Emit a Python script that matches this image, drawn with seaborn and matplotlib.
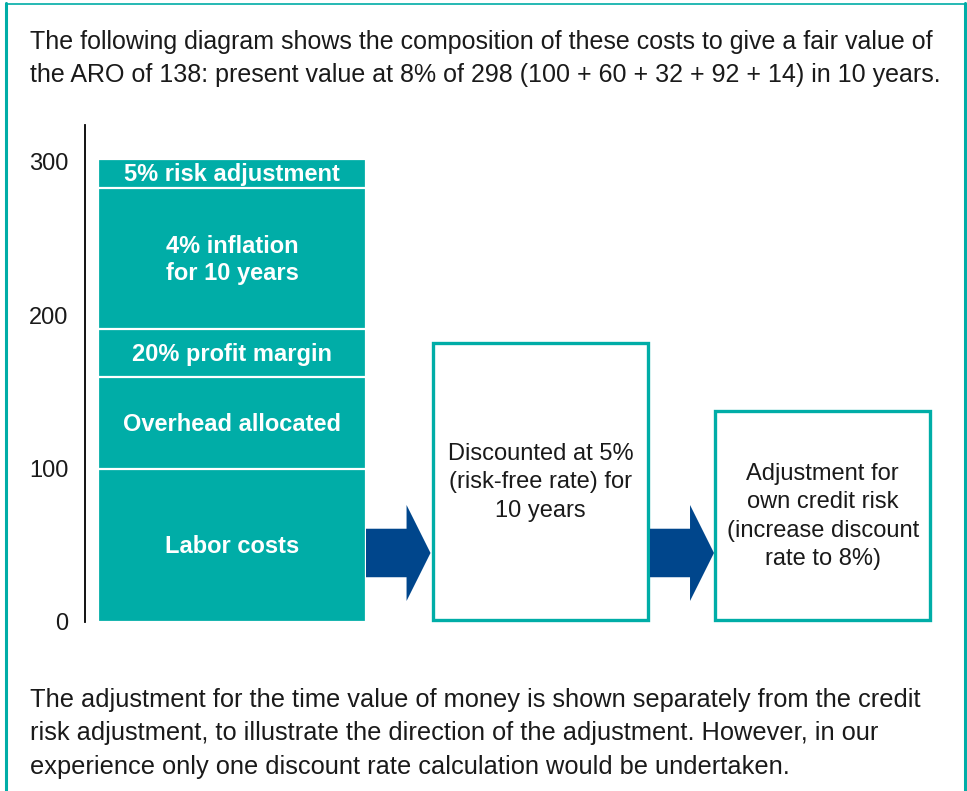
import matplotlib
matplotlib.use("Agg")
import matplotlib.pyplot as plt
import matplotlib.patches as mpatches
import seaborn as sns
import numpy as np
import pandas as pd

# --- data (bottom -> top) ---
components = ["Labor costs", "Overhead allocated", "20% profit margin",
              "4% inflation\nfor 10 years", "5% risk adjustment"]
amounts = [100, 60, 31, 92, 19]
y_ticks = [0, 100, 200, 300]

box_texts = ["Discounted at 5%\n(risk-free rate) for\n10 years",
             "Adjustment for\nown credit risk\n(increase discount\nrate to 8%)"]

intro = ("The following diagram shows the composition of these costs to give a fair value of\n"
         "the ARO of 138: present value at 8% of 298 (100 + 60 + 32 + 92 + 14) in 10 years.")
outro = ("The adjustment for the time value of money is shown separately from the credit\n"
         "risk adjustment, to illustrate the direction of the adjustment. However, in our\n"
         "experience only one discount rate calculation would be undertaken.")

# --- colours ---
TEAL = "#00ADA7"
BLUE = "#00468C"
TXT = "#1a1a1a"

sns.set_theme(style="white")
plt.rcParams['font.family'] = ['Liberation Sans', 'DejaVu Sans']

fig = plt.figure(figsize=(9.67, 7.91), dpi=100)
ax = fig.add_axes([0.0879, 0.2137, 0.879, 0.6283])

# stacked bar: draw cumulative totals from the tallest down
df = pd.DataFrame({"part": components, "amount": amounts})
df["top"] = df["amount"].cumsum()
df["bottom"] = df["top"] - df["amount"]
for _, row in df.iloc[::-1].iterrows():
    sns.barplot(x=["Costs"], y=[row["top"]], color=TEAL, saturation=1,
                width=0.8, edgecolor="white", linewidth=1.6, ax=ax)

for _, row in df.iterrows():
    ax.text(0, (row["top"] + row["bottom"]) / 2 - 1, row["part"], ha="center", va="center",
            color="white", fontsize=17, fontweight="bold", linespacing=1.27)

ax.set_xlim(-0.4388, 2.0985)
ax.set_ylim(0, 324)
ax.set_yticks(y_ticks)
ax.set_yticklabels([str(t) for t in y_ticks], fontsize=17, color=TXT)
ax.tick_params(axis="y", length=0, pad=12)
ax.set_xticks([])
ax.set_xlabel("")
ax.set_ylabel("")
for s in ["top", "right", "bottom"]:
    ax.spines[s].set_visible(False)
ax.spines["left"].set_color("black")
ax.spines["left"].set_linewidth(1.3)

# --- process boxes (axes fraction) ---
boxes = [(0.4094, 0.6624, 0.5614), (0.7412, 0.9947, 0.4245)]
for (x0, x1, ytop), label in zip(boxes, box_texts):
    ax.add_patch(mpatches.Rectangle((x0, 0.004), x1 - x0, ytop - 0.004,
                                    transform=ax.transAxes, fill=False,
                                    edgecolor=TEAL, linewidth=2.4, clip_on=False))
    ax.text((x0 + x1) / 2, ytop / 2, label, transform=ax.transAxes,
            ha="center", va="center", fontsize=17, color=TXT, linespacing=1.37)

# --- arrows ---
for x0, x1 in [(0.3306, 0.4065), (0.6647, 0.7400)]:
    ax.add_patch(mpatches.FancyArrow(x0, 0.1388, x1 - x0, 0, width=0.0976,
                                     head_width=0.1932, head_length=0.0282,
                                     length_includes_head=True, color=BLUE,
                                     linewidth=0, transform=ax.transAxes,
                                     clip_on=False))

# --- paragraphs ---
fig.text(0.031, 0.9262, intro, ha="left", va="center", fontsize=18,
         color=TXT, linespacing=1.47)
fig.text(0.031, 0.0730, outro, ha="left", va="center", fontsize=18.3,
         color=TXT, linespacing=1.5)

# --- outer frame (open at the bottom) ---
fig.add_artist(plt.Line2D([0.0057, 0.0057], [0, 0.996], color=TEAL, lw=2.2,
                          transform=fig.transFigure))
fig.add_artist(plt.Line2D([0.9975, 0.9975], [0, 0.996], color=TEAL, lw=2.2,
                          transform=fig.transFigure))
fig.add_artist(plt.Line2D([0.0057, 0.9975], [0.9955, 0.9955], color=TEAL, lw=1.2,
                          transform=fig.transFigure))

fig.savefig("out.png", dpi=100)
